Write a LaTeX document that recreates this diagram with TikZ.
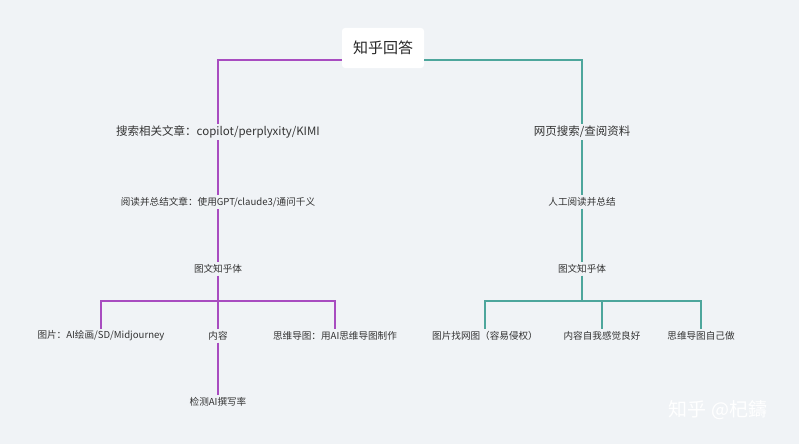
\documentclass[tikz,border=0pt]{standalone}
\usepackage{fontspec}
\setmainfont{Noto Sans CJK SC}
\begin{document}
\begin{tikzpicture}[x=1pt,y=-1pt,
  pl/.style={draw=purp,line width=2.5pt},
  tl/.style={draw=teal2,line width=2.5pt},
  lab/.style={font=\fontsize{9.6}{10}\selectfont,text=black!80,inner sep=2pt},
  lab1/.style={font=\fontsize{11.5}{12}\selectfont,text=black!80,inner sep=2pt}]
\definecolor{purp}{HTML}{A84CC0}
\definecolor{teal2}{HTML}{4DA69C}
\definecolor{bgc}{HTML}{F0F3F6}
\fill[bgc] (0,0) rectangle (799,444);
\useasboundingbox (0,0) rectangle (799,444);
\node[fill=white,rounded corners=3pt,minimum width=82pt,minimum height=40pt,font=\fontsize{15}{17}\selectfont,text=black!85] (root) at (383,48) {知乎回答};
% left
\node[lab1] (l1) at (218,132) {搜索相关文章：copilot/perplyxity/KIMI};
\node[lab] (l2) at (218,202) {阅读并总结文章：使用GPT/claude3/通问千义};
\node[lab] (l3) at (218,269) {图文知乎体};
\coordinate (lh) at (218,301);
\node[lab] (la) at (101,336) {图片：AI绘画/SD/Midjourney};
\node[lab] (lb) at (218,336) {内容};
\node[lab] (lc) at (335,336) {思维导图：用AI思维导图制作};
\node[lab] (ld) at (218,402) {检测AI撰写率};
\draw[pl] (root.west |- 0,60) -| (l1.north -| 218,0);
\draw[pl] (l1.south) -- (l2.north);
\draw[pl] (l2.south) -- (l3.north);
\draw[pl] (l3.south) -- (lh);
\draw[pl] (lh) -| (la.north);
\draw[pl] (lh) -| (lc.north);
\draw[pl] (lh) -- (lb.north);
\draw[pl] (lb.south) -- (ld.north);
% right
\node[lab1] (r1) at (582,132) {网页搜索/查阅资料};
\node[lab] (r2) at (582,202) {人工阅读并总结};
\node[lab] (r3) at (582,269) {图文知乎体};
\coordinate (rh) at (582,301);
\coordinate (rh2) at (602,301);
\node[lab] (ra) at (485,336) {图片找网图（容易侵权）};
\node[lab] (rb) at (602,336) {内容自我感觉良好};
\node[lab] (rc) at (701,336) {思维导图自己做};
\draw[tl] (root.east |- 0,60) -| (r1.north);
\draw[tl] (r1.south) -- (r2.north);
\draw[tl] (r2.south) -- (r3.north);
\draw[tl] (r3.south) -- (rh);
\draw[tl] (rh) -| (ra.north);
\draw[tl] (rh) -| (rc.north);
\draw[tl] (rh2) -- (rb.north);
\node[font=\fontsize{19}{22}\selectfont,text=white] (wm) at (718,410) {知乎 @杞鑄};
\end{tikzpicture}
\end{document}
